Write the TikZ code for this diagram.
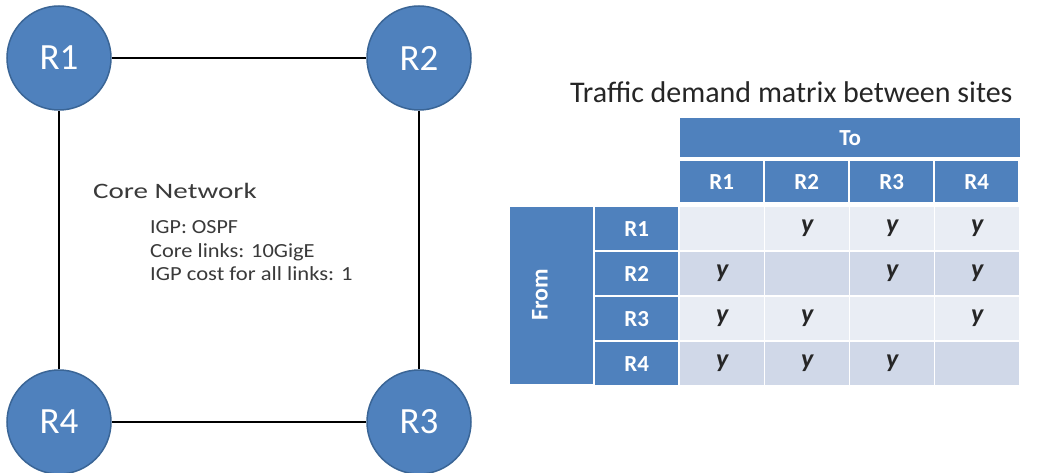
\documentclass[tikz,border=0pt]{standalone}
\usepackage{fontspec}
\setmainfont{Carlito}
\definecolor{hdrblue}{HTML}{4F81BD}
\definecolor{nodeblue}{HTML}{4F81BD}
\definecolor{nodeedge}{HTML}{3A6596}
\definecolor{rowlight}{HTML}{E9EDF4}
\definecolor{rowdark}{HTML}{D0D8E8}
\definecolor{txtgray}{HTML}{3A3A3A}
\begin{document}
\begin{tikzpicture}[x=1pt,y=-1pt,
  router/.style={circle,fill=nodeblue,draw=nodeedge,line width=1.5pt,minimum size=104pt,inner sep=0pt,text=white,font=\fontsize{37}{37}\selectfont},
  link/.style={line width=2.6pt,black},
  hdr/.style={fill=hdrblue,text=white,inner sep=0pt,font=\fontsize{23}{23}\selectfont\bfseries},
  cellL/.style={fill=rowlight,inner sep=0pt,font=\fontsize{26}{26}\selectfont\bfseries\itshape,text=black!85},
  cellD/.style={fill=rowdark,inner sep=0pt,font=\fontsize{26}{26}\selectfont\bfseries\itshape,text=black!85},
  info/.style={anchor=base west,inner sep=0pt,text=txtgray,font=\fontsize{20}{20}\selectfont}
]
\useasboundingbox (0,0) rectangle (1040,473);
\fill[white] (0,0) rectangle (1040,473);

% routers
\node[router] (R1) at (59,58) {R1};
\node[router] (R2) at (419,58) {R2};
\node[router] (R3) at (419,422) {R3};
\node[router] (R4) at (59,422) {R4};
\draw[link] (R1) -- (R2);
\draw[link] (R2) -- (R3);
\draw[link] (R3) -- (R4);
\draw[link] (R4) -- (R1);

% core network text
\node[info,font=\fontsize{22}{22}\selectfont] (core) at (93,198) {\scalebox{1.32}[1]{Core Network}};
\node[info] (igp) at (150,233) {\scalebox{1.1}[1]{IGP: OSPF}};
\node[info] (links) at (150,257) {\scalebox{1.12}[1]{Core links: 10GigE}};
\node[info] (cost) at (150,280) {\scalebox{1.13}[1]{IGP cost for all links: 1}};

% title
\node[anchor=base west,inner sep=0pt,text=black!85,font=\fontsize{30}{30}\selectfont] (title) at (570,103) {Traffic demand matrix between sites};

% table
\node[hdr,minimum width=340pt,minimum height=39pt,anchor=north west] (to) at (680,118) {To};
\foreach \j/\lab in {0/R1,1/R2,2/R3,3/R4}{
  \node[hdr,minimum width=83pt,minimum height=41pt,anchor=north west] (c\lab) at ({680+85*\j},161) {\lab};
}
\node[hdr,minimum width=83pt,minimum height=177pt,anchor=north west] (from) at (510,207) {};
\node[hdr,fill=none,rotate=90,font=\fontsize{24}{24}\selectfont\bfseries] (fromtxt) at (540,295) {From};
\foreach \i/\lab in {0/R1,1/R2,2/R3,3/R4}{
  \node[hdr,minimum width=83pt,minimum height=43pt,anchor=north west] (r\lab) at (595,{207+45*\i}) {\lab};
}
% cells
\foreach \i/\st in {0/cellL,1/cellD,2/cellL,3/cellD}{
  \foreach \j in {0,1,2,3}{
    \pgfmathtruncatemacro{\same}{\i==\j ? 1 : 0}
    \ifnum\same=1
      \node[\st,minimum width=84pt,minimum height=43pt,anchor=north west] (m\i\j) at ({680+85*\j},{207+45*\i}) {};
    \else
      \node[\st,minimum width=84pt,minimum height=43pt,anchor=north west] (m\i\j) at ({680+85*\j},{207+45*\i}) {y};
    \fi
  }
}
\end{tikzpicture}
\end{document}
